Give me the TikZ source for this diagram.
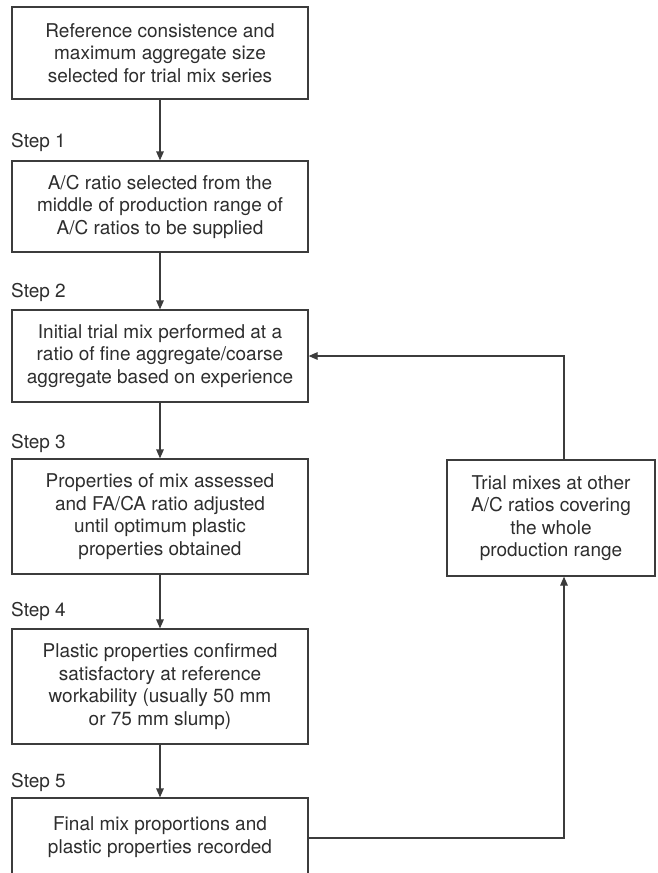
\documentclass[tikz,border=0pt]{standalone}
\usepackage{fontspec}
\setmainfont{TeX Gyre Heros}
\usetikzlibrary{arrows.meta, positioning}
\definecolor{inkline}{HTML}{3C3C3C}
\definecolor{inktext}{HTML}{2E2E2E}
\tikzset{
  stepbox/.style={draw=inkline, line width=1.2pt, fill=white, text=inktext,
    align=center, minimum width=296pt, inner sep=0pt,
    font=\fontsize{19}{22.5}\selectfont},
  steplabel/.style={anchor=base west, text=inktext, inner sep=0pt,
    font=\fontsize{19}{22.5}\selectfont},
  flow/.style={draw=inkline, line width=1.2pt, -{Triangle[length=9pt, width=7.5pt]}},
}

\begin{document}
\begin{tikzpicture}[x=1pt, y=-1pt]
    \clip (0,0) rectangle (658,873);
    \fill[white] (0,0) rectangle (658,873);
    % main column
    \node[stepbox, minimum height=92pt] (refsize) at (160,53)
      {Reference consistence and\\maximum aggregate size\\selected for trial mix series};
    \node[stepbox, minimum height=91pt] (acratio) at (160,206.5)
      {A/C ratio selected from the\\middle of production range of\\A/C ratios to be supplied};
    \node[stepbox, minimum height=92pt] (initmix) at (160,356)
      {Initial trial mix performed at a\\ratio of fine aggregate/coarse\\aggregate based on experience};
    \node[stepbox, minimum height=115pt] (assess) at (160,516.5)
      {Properties of mix assessed\\and FA/CA ratio adjusted\\until optimum plastic\\properties obtained};
    \node[stepbox, minimum height=115pt] (confirm) at (160,686.5)
      {Plastic properties confirmed\\satisfactory at reference\\workability (usually 50 mm\\or 75 mm slump)};
    \node[stepbox, minimum height=80pt, text depth=6pt] (final) at (160,838)
      {Final mix proportions and\\plastic properties recorded};
    % side box
    \node[stepbox, minimum width=208pt, minimum height=116pt] (othermix) at (551,518)
      {Trial mixes at other\\A/C ratios covering\\the whole\\production range};
    % step labels
    \node[steplabel] (stepa) at (11,147) {Step 1};
    \node[steplabel] (stepb) at (11,297) {Step 2};
    \node[steplabel] (stepc) at (11,448) {Step 3};
    \node[steplabel] (stepd) at (11,616) {Step 4};
    \node[steplabel] (stepe) at (11,787) {Step 5};
    % connectors
    \draw[flow] (refsize) -- (acratio);
    \draw[flow] (acratio) -- (initmix);
    \draw[flow] (initmix) -- (assess);
    \draw[flow] (assess) -- (confirm);
    \draw[flow] (confirm) -- (final);
    \draw[flow] (final.east) -| ([xshift=13pt]othermix.south);
    \draw[flow] ([xshift=13pt]othermix.north) |- (initmix.east);
  \end{tikzpicture}
\end{document}
